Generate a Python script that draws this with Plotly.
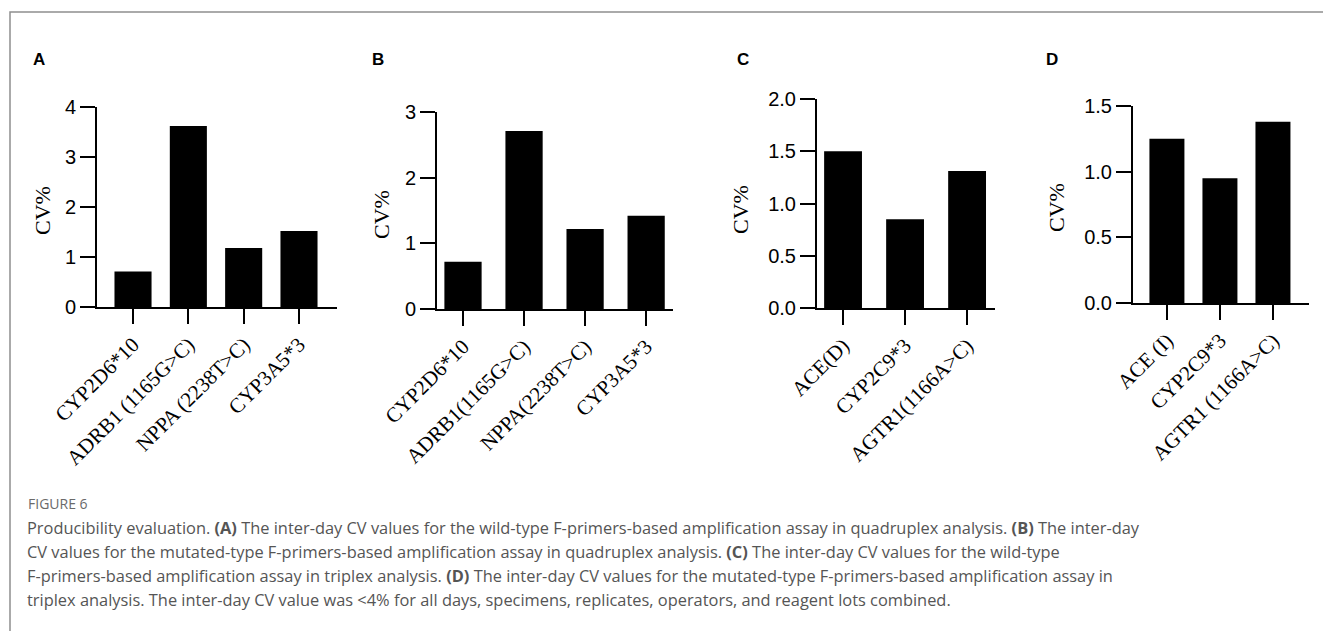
import plotly.graph_objects as go

W, H = 1323, 631

# ---- data ----
cats_a = ["CYP2D6*10", "ADRB1 (1165G>C)", "NPPA (2238T>C)", "CYP3A5*3"]
vals_a = [0.71, 3.62, 1.18, 1.52]
cats_b = ["CYP2D6*10", "ADRB1(1165G>C)", "NPPA(2238T>C)", "CYP3A5*3"]
vals_b = [0.72, 2.71, 1.22, 1.42]
cats_c = ["ACE(D)", "CYP2C9*3", "AGTR1(1166A>C)"]
vals_c = [1.50, 0.85, 1.31]
cats_d = ["ACE (I)", "CYP2C9*3", "AGTR1 (1166A>C)"]
vals_d = [1.25, 0.95, 1.38]

yticks_a = [0, 1, 2, 3, 4]
yticks_b = [0, 1, 2, 3]
yticks_c = [0.0, 0.5, 1.0, 1.5, 2.0]
yticks_d = [0.0, 0.5, 1.0, 1.5]

panel_letters = ["A", "B", "C", "D"]
y_title = "CV%"

caption_head = "FIGURE 6"
caption_lines = [
    "Producibility evaluation. <b>(A)</b> The inter-day CV values for the wild-type F-primers-based amplification assay in quadruplex analysis. <b>(B)</b> The inter-day",
    "CV values for the mutated-type F-primers-based amplification assay in quadruplex analysis. <b>(C)</b> The inter-day CV values for the wild-type",
    "F-primers-based amplification assay in triplex analysis. <b>(D)</b> The inter-day CV values for the mutated-type F-primers-based amplification assay in",
    "triplex analysis. The inter-day CV value was &lt;4% for all days, specimens, replicates, operators, and reagent lots combined.",
]

# ---- layout geometry (pixels) ----
panels = [
    dict(cats=cats_a, vals=vals_a, yt=yticks_a, fmt="d", x0=97, x1=337, ytop=107, ybot=307,
         xr=[-0.651, 3.687], bw=0.67, letter_x=39, title_x=42, title_y=211),
    dict(cats=cats_b, vals=vals_b, yt=yticks_b, fmt="d", x0=437, x1=673, ytop=112, ybot=309,
         xr=[-0.426, 3.44], bw=0.61, letter_x=378, title_x=382, title_y=215),
    dict(cats=cats_c, vals=vals_c, yt=yticks_c, fmt=".1f", x0=817, x1=995, ytop=99, ybot=308,
         xr=[-0.42, 2.45], bw=0.61, letter_x=743, title_x=740, title_y=210),
    dict(cats=cats_d, vals=vals_d, yt=yticks_d, fmt=".1f", x0=1133, x1=1309, ytop=106, ybot=303,
         xr=[-0.64, 2.68], bw=0.66, letter_x=1052, title_x=1057, title_y=208),
]

def px(x):
    return x / W

def py(y):
    return 1 - y / H

fig = go.Figure()
annotations = []
for i, p in enumerate(panels):
    n = "" if i == 0 else str(i + 1)
    xs = list(range(len(p["cats"])))
    fig.add_trace(go.Bar(
        x=xs, y=p["vals"], width=p["bw"],
        marker=dict(color="black", line=dict(width=0)),
        xaxis="x" + n, yaxis="y" + n, showlegend=False, hoverinfo="skip",
    ))
    ymax = p["yt"][-1]
    fig.layout["xaxis" + n] = dict(
        domain=[px(p["x0"]), px(p["x1"])], anchor="y" + n, automargin=False,
        range=p["xr"], tickmode="array", tickvals=xs, ticktext=p["cats"],
        tickangle=-45, ticks="outside", ticklen=15, tickwidth=2, tickcolor="black",
        showline=True, linecolor="black", linewidth=2, showgrid=False, zeroline=False,
        tickfont=dict(family="Liberation Serif", size=21, color="black"),
    )
    fig.layout["yaxis" + n] = dict(
        domain=[py(p["ybot"]), py(p["ytop"])], anchor="x" + n, automargin=False,
        range=[0, ymax], tickmode="array", tickvals=p["yt"],
        ticktext=[format(v, p["fmt"]) if p["fmt"] == ".1f" else str(int(v)) for v in p["yt"]],
        ticks="outside", ticklen=15, tickwidth=2, tickcolor="black",
        showline=True, linecolor="black", linewidth=2, showgrid=False, zeroline=False,
        tickfont=dict(family="Liberation Sans", size=20, color="black"),
    )
    annotations.append(dict(
        text="<b>" + panel_letters[i] + "</b>", x=px(p["letter_x"]), y=py(59),
        xref="paper", yref="paper", showarrow=False, xanchor="center", yanchor="middle",
        font=dict(family="Liberation Sans", size=17, color="black"),
    ))
    annotations.append(dict(
        text=y_title, x=px(p["title_x"]), y=py(p["title_y"]), textangle=-90,
        xref="paper", yref="paper", showarrow=False, xanchor="center", yanchor="middle",
        font=dict(family="Liberation Serif", size=22, color="black"),
    ))

annotations.append(dict(
    text=caption_head, x=px(26), y=py(503), xref="paper", yref="paper", showarrow=False,
    xanchor="left", yanchor="middle", font=dict(family="Open Sans", size=14, color="#6a6a6a"),
))
for k, line in enumerate(caption_lines):
    annotations.append(dict(
        text=line, x=px(25), y=py([527, 551, 575, 599][k]), xref="paper", yref="paper",
        showarrow=False, xanchor="left", yanchor="middle", align="left",
        font=dict(family="Open Sans", size=16.4, color="#555555"),
    ))

fig.update_layout(
    template="none",
    width=W, height=H, margin=dict(l=0, r=0, t=0, b=0, pad=0),
    paper_bgcolor="white", plot_bgcolor="white",
    annotations=annotations,
    shapes=[dict(type="rect", xref="paper", yref="paper",
                 x0=px(10), y0=py(700), x1=px(1400), y1=py(12),
                 line=dict(color="#8f8f8f", width=1.5), fillcolor="rgba(0,0,0,0)")],
)

fig.write_html("out.html")
